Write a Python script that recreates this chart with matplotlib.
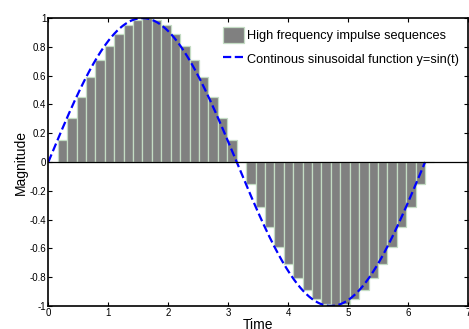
import numpy as np
import matplotlib.pyplot as plt

plt.rcParams['font.family'] = ['Liberation Sans', 'DejaVu Sans']

# Impulse sequence: 40 samples per period, heights
step = np.pi / 20
t_samp = np.arange(1, 41) * step
mag_samp = [0.156, 0.309, 0.454, 0.588, 0.707, 0.809, 0.891, 0.951, 0.988, 1.0,
            0.988, 0.951, 0.891, 0.809, 0.707, 0.588, 0.454, 0.309, 0.156, 0.0,
            -0.156, -0.309, -0.454, -0.588, -0.707, -0.809, -0.891, -0.951, -0.988, -1.0,
            -0.988, -0.951, -0.891, -0.809, -0.707, -0.588, -0.454, -0.309, -0.156, 0.0]

# continuous curve
t_cont = np.linspace(0, 2 * np.pi, 400)
y_cont = np.sin(t_cont)

xticks = [0, 1, 2, 3, 4, 5, 6, 7]
yticks = [-1, -0.8, -0.6, -0.4, -0.2, 0, 0.2, 0.4, 0.6, 0.8, 1]
ylabels = ['-1', '-0.8', '-0.6', '-0.4', '-0.2', '0', '0.2', '0.4', '0.6', '0.8', '1']

fig = plt.figure(figsize=(4.69, 3.29), dpi=100)
ax = fig.add_axes([0.103, 0.07, 0.895, 0.875])

bars = ax.bar(t_samp, mag_samp, width=step, align='edge', color='#808080',
              edgecolor='#c4dcc4', linewidth=0.9, label='High frequency impulse sequences')
line, = ax.plot(t_cont, y_cont, '--', color='#0000ff', lw=1.6,
                label='Continous sinusoidal function y=sin(t)')
ax.axhline(0, color='black', lw=0.9)

ax.set_xlim(0, 7)
ax.set_ylim(-1, 1)
ax.set_xticks(xticks)
ax.set_yticks(yticks)
ax.set_yticklabels(ylabels)
ax.tick_params(direction='in', top=True, right=True, labelsize=7, length=3, pad=1.5)
for s in ax.spines.values():
    s.set_linewidth(1.2)

ax.set_xlabel('Time', fontsize=10, labelpad=0)
ax.set_ylabel('Magnitude', fontsize=10, labelpad=1)

ax.legend(handles=[bars, line], loc='upper left', frameon=False, fontsize=9.2,
          handlelength=1.65, handleheight=1.55, handletextpad=0.25,
          borderpad=0, borderaxespad=0, labelspacing=0.6,
          bbox_to_anchor=(223 / 469, 1 - 27 / 329), bbox_transform=fig.transFigure)

plt.savefig('out.png', dpi=100)
